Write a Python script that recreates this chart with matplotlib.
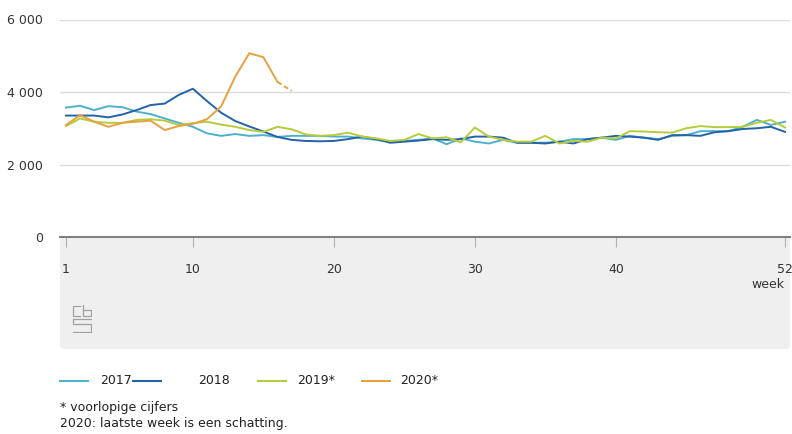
import matplotlib
matplotlib.use("Agg")
import matplotlib.pyplot as plt
from matplotlib.patches import FancyBboxPatch
import numpy as np

# weekly values
weeks = np.arange(1, 53)
w2017 = [3570, 3620, 3500, 3610, 3580, 3460, 3390, 3270, 3150, 3040, 2860, 2790, 2840, 2790, 2810,
         2760, 2790, 2790, 2790, 2770, 2770, 2720, 2680, 2630, 2650, 2680, 2720, 2560, 2720, 2630,
         2580, 2680, 2600, 2600, 2600, 2630, 2700, 2700, 2740, 2680, 2790, 2740, 2700, 2790, 2810,
         2920, 2920, 2920, 3040, 3230, 3090, 3180]
w2018 = [3350, 3350, 3350, 3300, 3380, 3500, 3640, 3680, 3920, 4090, 3750, 3430, 3200, 3050, 2910,
         2760, 2680, 2650, 2640, 2650, 2700, 2770, 2700, 2600, 2630, 2660, 2700, 2680, 2700, 2770,
         2770, 2740, 2600, 2600, 2580, 2630, 2580, 2700, 2740, 2790, 2770, 2740, 2680, 2810, 2810,
         2790, 2890, 2920, 2980, 3000, 3040, 2900]
w2019 = [3060, 3270, 3180, 3150, 3150, 3230, 3250, 3210, 3090, 3140, 3180, 3100, 3040, 2950, 2900,
         3040, 2970, 2830, 2790, 2810, 2880, 2770, 2720, 2650, 2680, 2840, 2720, 2750, 2610, 3020,
         2770, 2680, 2630, 2630, 2790, 2580, 2650, 2630, 2740, 2720, 2920, 2910, 2890, 2880, 3000,
         3060, 3030, 3030, 3040, 3150, 3230, 3020]
weeks2020 = np.arange(1, 18)
w2020 = [3090, 3360, 3180, 3040, 3150, 3180, 3210, 2950, 3060, 3120, 3250, 3600, 4420, 5070, 4960,
         4280, 4030]
n_solid_2020 = 16  # last week is an estimate (dashed)

xticks = [1, 10, 20, 30, 40, 52]
yticks = [0, 2000, 4000, 6000]
ytick_labels = ["0", "2 000", "4 000", "6 000"]

c2017 = "#4fb0cc"
c2018 = "#2463a8"
c2019 = "#b7cb3c"
c2020 = "#e9a040"

plt.rcParams['font.family'] = ['DejaVu Sans']
W, H = 792, 434
fig = plt.figure(figsize=(W / 100, H / 100), dpi=100)
fig.patch.set_facecolor("white")

def fx(px):
    return px / W

def fy(py):
    return 1 - py / H

# grey panel under the axis
band = FancyBboxPatch((fx(60), fy(349)), fx(790) - fx(60), fy(237) - fy(349),
                      boxstyle="round,pad=0,rounding_size=0.008", transform=fig.transFigure,
                      facecolor="#efefef", edgecolor="none", zorder=-10)
fig.patches.append(band)

ax = fig.add_axes([fx(60), fy(237), fx(790) - fx(60), fy(19.5) - fy(237)])
ax.set_facecolor("none")

ax.plot(weeks, w2017, color=c2017, lw=1.4)
ax.plot(weeks, w2018, color=c2018, lw=1.4)
ax.plot(weeks, w2019, color=c2019, lw=1.4)
ax.plot(weeks2020[:n_solid_2020], w2020[:n_solid_2020], color=c2020, lw=1.4)
ax.plot(weeks2020[n_solid_2020 - 1:], w2020[n_solid_2020 - 1:], color=c2020, lw=1.4,
        ls=(0, (2.5, 1.5)))

ax.set_xlim(1 - 6 / 14.1, 52 + 5 / 14.1)
ax.set_ylim(0, 6000)
ax.set_yticks(yticks)
ax.set_yticklabels(ytick_labels)
ax.set_xticks(xticks)
ax.grid(axis="y", color="#dcdcdc", lw=1)
ax.set_axisbelow(True)
for s in ["top", "right", "left"]:
    ax.spines[s].set_visible(False)
ax.spines["bottom"].set_color("#808080")
ax.spines["bottom"].set_linewidth(1.5)
ax.tick_params(axis="y", length=0, pad=12, labelsize=9, labelcolor="#333333")
ax.tick_params(axis="x", length=7, width=0.8, color="#b0b0b0", pad=12, labelsize=9,
               labelcolor="#333333")
for lbl in ax.get_yticklabels():
    lbl.set_horizontalalignment("right")

fig.text(fx(784), fy(285), "week", ha="right", va="center", fontsize=9, color="#333333")

# simple cbs logo sketch
logo = fig.add_axes([fx(72), fy(333), fx(20), fy(305) - fy(333)])
logo.set_xlim(0, 10)
logo.set_ylim(0, 14)
logo.axis("off")
lc = "#a0a0a0"
logo.plot([4, 0.5, 0.5, 4], [13.5, 13.5, 8.5, 8.5], color=lc, lw=0.9)
logo.plot([5.5, 5.5, 9.5, 9.5, 5.5], [14, 8.5, 8.5, 11.5, 11.5], color=lc, lw=0.9)
logo.plot([9.5, 0.5, 0.5, 9.5, 9.5, 0.5], [7, 7, 4.5, 4.5, 0.5, 0.5], color=lc, lw=0.9)

# legend
legend_items = [("2017", c2017, 60, 100), ("2018", c2018, 133, 198),
                ("2019*", c2019, 258, 297), ("2020*", c2020, 362, 400)]
for label, col, x0, xt in legend_items:
    fig.add_artist(plt.Line2D([fx(x0), fx(x0 + 28)], [fy(381), fy(381)], color=col, lw=1.5,
                              transform=fig.transFigure))
    fig.text(fx(xt), fy(381), label, ha="left", va="center", fontsize=9, color="#222222")

fig.text(fx(60), fy(407), "* voorlopige cijfers", ha="left", va="center", fontsize=9,
         color="#222222")
fig.text(fx(60), fy(424), "2020: laatste week is een schatting.", ha="left", va="center",
         fontsize=9, color="#222222")

fig.savefig("out.png", dpi=100)
